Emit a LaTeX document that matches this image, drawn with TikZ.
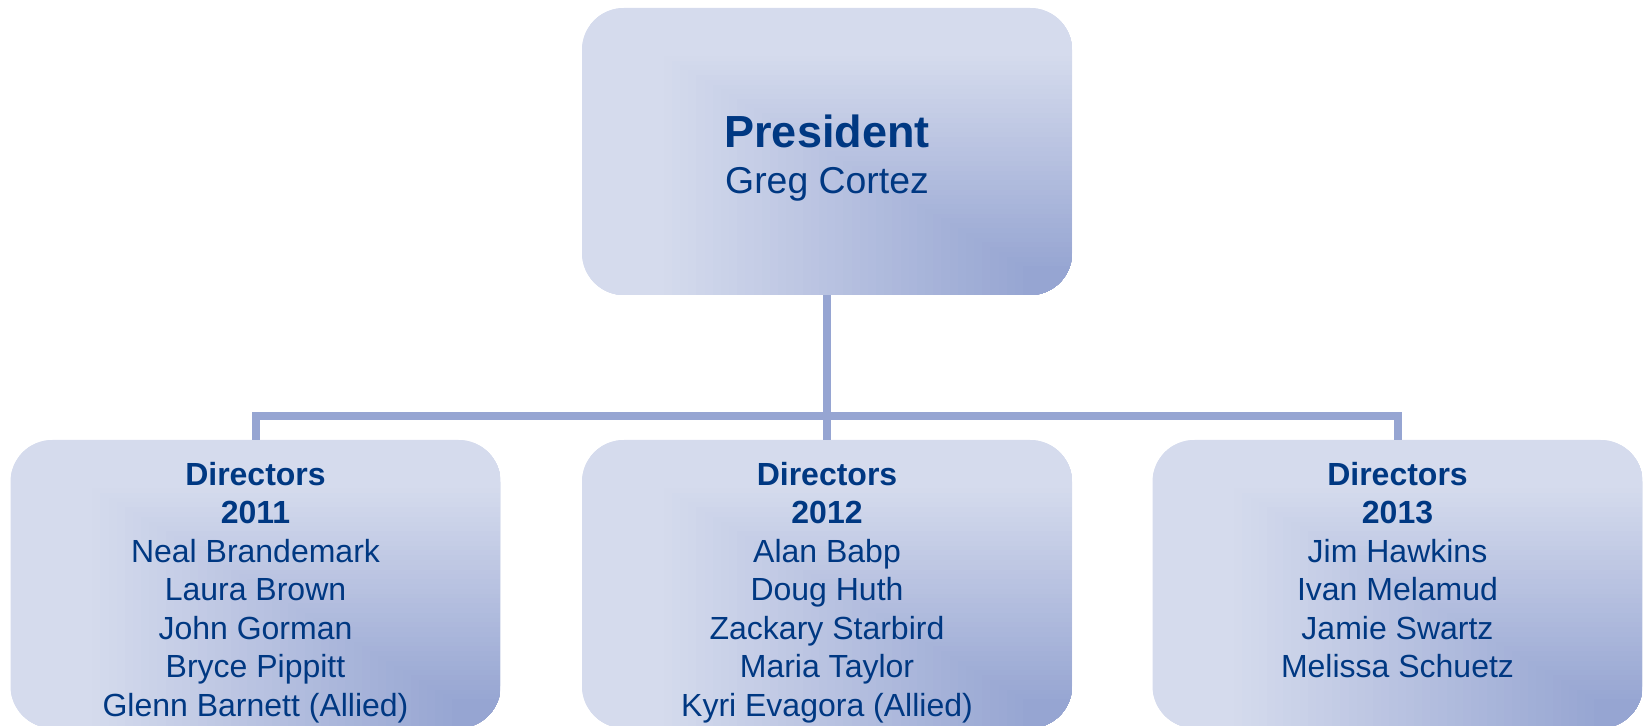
\documentclass[tikz,border=0pt]{standalone}
\usepackage{fontspec}
\setmainfont{Liberation Sans}
\usetikzlibrary{calc}
\definecolor{lt}{RGB}{213,219,237}
\definecolor{dk}{RGB}{150,165,210}
\definecolor{txt}{RGB}{0,56,130}
\tikzset{
  orgbox/.style={rectangle, rounded corners=21pt, minimum width=245pt,
    minimum height=#1, inner sep=0pt, fill=lt,
    path picture={
      \foreach \i in {0,...,60}{
        \pgfmathsetmacro\fr{\i/60}
        \pgfmathtruncatemacro\pct{min(100,max(0,(\fr-0.15)/0.75*100))}
        \fill[sharp corners, dk!\pct!lt]
          ($(path picture bounding box.north west)!\fr!(path picture bounding box.south east)$)
          rectangle (path picture bounding box.south east);
      }
    }},
  link/.style={draw=dk, line width=4pt},
  boxtext/.style={text=txt, align=center, inner sep=0pt, anchor=north,
    font=\fontsize{16}{19.25}\selectfont}
}
\begin{document}
\begin{tikzpicture}[x=0.5pt,y=-0.5pt]
\useasboundingbox (0,0) rectangle (1647,726);
\clip (0,0) rectangle (1647,726);

\node[orgbox=143.5pt] (pres) at (827,151.5) {};
\node[orgbox=144pt] (d1) at (255.5,584) {};
\node[orgbox=144pt] (d2) at (827,584) {};
\node[orgbox=144pt] (d3) at (1397.5,584) {};

\coordinate (bus) at (827,416);
\draw[link] (pres.south) -- (d2.north);
\draw[link] (d1.north) -- (d1.north |- bus) -- (d3.north |- bus) -- (d3.north);

\node[text=txt, align=center, inner sep=0pt, anchor=north,
      font=\fontsize{22.5}{23}\selectfont] (presT) at (827,114.5)
  {\textbf{President}\\
   {\fontsize{18.7}{23}\selectfont Greg Cortez}};

\node[boxtext] (d1T) at (d1.north |- 0,461.5)
  {\textbf{Directors}\\\textbf{2011}\\Neal Brandemark\\Laura Brown\\John Gorman\\Bryce Pippitt\\Glenn Barnett (Allied)};
\node[boxtext] (d2T) at (d2.north |- 0,461.5)
  {\textbf{Directors}\\\textbf{2012}\\Alan Babp\\Doug Huth\\Zackary Starbird\\Maria Taylor\\Kyri Evagora (Allied)};
\node[boxtext] (d3T) at (d3.north |- 0,461.5)
  {\textbf{Directors}\\\textbf{2013}\\Jim Hawkins\\Ivan Melamud\\Jamie Swartz\\Melissa Schuetz};
\end{tikzpicture}
\end{document}
